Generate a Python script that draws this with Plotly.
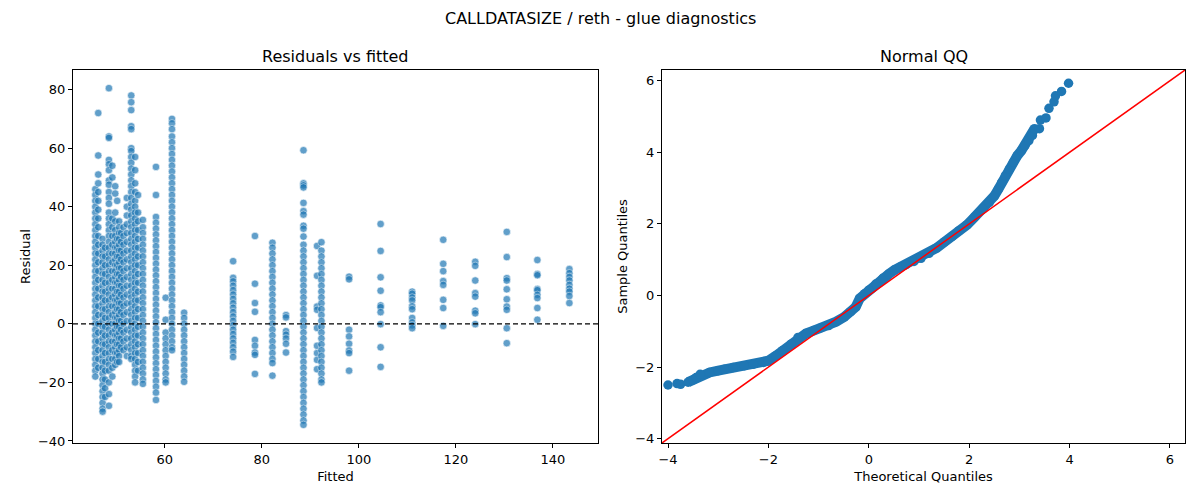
import plotly.graph_objects as go
from plotly.subplots import make_subplots

## Residuals vs fitted: one residual list per fitted level
res_f45_7 = [46, 44, 42, 40, 38, 36, 34, 32, 30, 28, 26, 24, 22, 20, 18, 16, 14, 12, 10, 8, 6, 4, 2, 0,
             -2, -4, -6, -8, -10, -12, -14, -16, -18]
res_f46_3 = [72, 57.5, 51, 48, 45, 42, 39, 36, 33, 30, 27, 24, 21, 18, 15, 12, 9, 6, 3, 0, -3, -6, -9, -12, -15]
res_f47_2 = [29, 27, 25, 23, 21, 19, 17, 15, 13, 11, 9, 7, 5, 3, 1, -1, -3, -5, -7, -9, -11, -13, -15, -17,
             -19, -21, -23, -25, -27, -29, -30]
res_f47_7 = [26, 23, 20, 17, 14, 11, 8, 5, 2, -1, -4, -7, -10, -13, -16, -19, -22, -25]
res_f48_5 = [80.5, 64, 63.5, 56, 54.5, 52.5, 49, 47.5, 45, 43, 41, 38, 36, 34, 32, 30, 28, 26, 24, 22, 20,
             18, 16, 14, 12, 10, 8, 6, 4, 2, 0, -2, -4, -6, -8, -10, -12, -14, -16, -20, -24, -28]
res_f49_2 = [54, 50, 36, 33, 30, 27, 24, 21, 18, 15, 12, 9, 6, 3, 0, -3, -6, -9, -12, -15, -18]
res_f49_8 = [47, 44.5, 38, 35, 32, 30, 28, 26, 24, 22, 20, 18, 16, 14, 12, 10, 8, 6, 4, 2, 0, -2, -4, -6,
             -8, -10, -12, -14]
res_f50_2 = [42, 29, 26, 23, 20, 17, 14, 11, 8, 5, 2, -1, -4, -7, -10, -13]
res_f50_6 = [35, 33, 31, 29, 27, 25, 23, 21, 19, 17, 15, 13, 11, 9, 7, 5, 3, 1, -1, -3, -5, -7, -9, -11, -13]
res_f51_0 = [31, 28, 25, 22, 19, 16, 13, 10, 7, 4, 1, -2, -5, -8]
res_f51_5 = [33, 30, 27, 24, 21, 18, 15, 12, 9, 6, 3, 0, -3, -6, -9]
res_f52_2 = [43, 40, 37, 34, 31, 28, 25, 22, 19, 16, 13, 10, 7, 4, 1, -2, -5, -8, -11]
res_f53_1 = [78, 75.7, 73, 67.5, 66.5, 60, 59, 57, 55, 53, 51, 49, 47, 45, 43, 41, 39, 37, 35, 33, 31, 29,
             27, 25, 23, 21, 19, 17, 15, 13, 11, 9, 7, 5, 3, 1, -1, -3, -5, -7, -9, -11, -12]
res_f53_9 = [57, 52.5, 48, 45, 42, 40, 38, 36, 34, 32, 30, 28, 26, 24, 22, 20, 18, 16, 14, 12, 10, 8, 6, 4,
             2, 0, -2, -4, -6, -8, -10, -12, -14, -16, -18, -20]
res_f54_5 = [44, 38, 35, 32, 29, 26, 23, 20, 17, 14, 11, 8, 5, 2, -1, -4, -7, -10, -13, -16]
res_f55_5 = [35.5, 33, 31, 29, 27, 25, 23, 21, 19, 17, 15, 13, 11, 9, 7, 5, 3, 1, -1, -3, -5, -7, -9, -11,
             -13, -15, -17, -19, -20.5]
res_f58_2 = [53.6, 44, 36.5, 34.5, 32.5, 30.5, 28.5, 26.5, 24.5, 22.5, 20.5, 18.5, 16.5, 14.5, 12.5, 10.5,
             8.5, 6.5, 4.5, 2.5, 0.5, -1.5, -3.5, -5.5, -7.5, -9.5, -11.5, -13.5, -15.5, -17.5, -19.5,
             -21.5, -23.5, -26]
res_f60_2 = [8.9, 1.4, -3, -5, -7, -9, -11, -13, -15, -17, -19, -20]
res_f61_5 = [70, 68.5, 66.5, 64, 62, 60, 58, 56, 54, 52, 50, 48, 46, 44, 42, 40, 38, 36, 34, 32, 30, 28,
             26, 24, 22, 20, 18, 16, 14, 12, 10, 8, 6, 4, 2, 0, -2, -4, -6, -8, -9]
res_f64_0 = [3.8, 2, 0, -2, -4, -6, -8, -10, -12, -14, -16, -18, -19.8]
res_f74_1 = [21.4, 15.7, 14.5, 13, 11.5, 10, 8.5, 7, 5.5, 4, 2.5, 1, -0.5, -2, -3.5, -5, -6.5, -8, -9.5, -11.3]
res_f78_6 = [30, 13.7, 7.1, 4.1, -5.5, -7.5, -9.8, -10.6, -17.1]
res_f82_2 = [27.7, 26, 24, 22, 20, 18, 16, 14, 12, 10, 8, 6, 4, 2, 0, -2, -4, -6, -8, -10, -12, -13.4, -17.7]
res_f85_0 = [3, 2.2, -2.5, -3.7, -5, -6.8, -9.8]
res_f88_6 = [59.3, 48, 47.3, 46.6, 41.3, 38.5, 37.3, 33.5, 32.5, 29.8, 27, 25, 23, 21, 19, 17, 15, 13, 11,
             9, 7, 5, 3, 1, -1, -3, -5, -7, -9, -11, -13, -15, -17, -19, -21, -23, -25, -27, -29, -31,
             -33, -34.5]
res_f91_4 = [26.6, 16.4, 5.9, 4.8, -1.4, -7.5, -10, -12.3, -15.5]
res_f92_3 = [27.9, 25, 23, 21, 19, 17, 15, 13, 11, 9, 7, 5, 3, 1, -1, -3, -5, -7, -9, -11, -13, -15, -17,
             -19, -20]
res_f98_0 = [16.1, 15.2, -2, -4.3, -6.8, -9.1, -10, -16]
res_f104_5 = [34.1, 24.9, 15.9, 11.3, 6.3, 5.7, 4, -0.1, -8, -14.7]
res_f111_0 = [11, 10.3, 9, 8, 6, 5, 2, 0.5, -0.5, -1.5]
res_f117_4 = [28.7, 20.5, 18, 14.6, 13.3, 8.2, 5.4, -0.7]
res_f124_0 = [21.2, 19.8, 14.8, 10.5, 9.3, 4.5, 3.6, -0.1]
res_f130_5 = [31.4, 22.8, 15.6, 14.8, 11.8, 8.4, 5.9, 4.8, -1.5, -6.6]
res_f136_8 = [21.8, 17, 16.6, 11.9, 11.5, 9.9, 8.8, 5.4, 1.4]
res_f143_4 = [18.7, 17.3, 16, 14.8, 13.3, 12, 11, 9.5, 7.1]

fitted_levels = [45.7, 46.3, 47.2, 47.7, 48.5, 49.2, 49.8, 50.2, 50.6, 51.0, 51.5, 52.2, 53.1, 53.9,
                 54.5, 55.5, 58.2, 60.2, 61.5, 64.0, 74.1, 78.6, 82.2, 85.0, 88.6, 91.4, 92.3, 98.0,
                 104.5, 111.0, 117.4, 124.0, 130.5, 136.8, 143.4]
residual_groups = [res_f45_7, res_f46_3, res_f47_2, res_f47_7, res_f48_5, res_f49_2, res_f49_8, res_f50_2,
                   res_f50_6, res_f51_0, res_f51_5, res_f52_2, res_f53_1, res_f53_9, res_f54_5, res_f55_5,
                   res_f58_2, res_f60_2, res_f61_5, res_f64_0, res_f74_1, res_f78_6, res_f82_2, res_f85_0,
                   res_f88_6, res_f91_4, res_f92_3, res_f98_0, res_f104_5, res_f111_0, res_f117_4,
                   res_f124_0, res_f130_5, res_f136_8, res_f143_4]

## Normal QQ (theoretical vs sample quantiles)
qq_theoretical = [-4.0, -3.82, -3.75, -3.6, -3.5, -3.44, -3.36, -3.17, -3.0, -2.87, -2.7, -2.48, -2.3,
                  -2.1, -2.0, -1.85, -1.72, -1.55, -1.41, -1.25, -1.1, -0.95, -0.8, -0.65, -0.49, -0.36,
                  -0.26, -0.18, -0.08, 0.0, 0.14, 0.28, 0.4, 0.51, 0.62, 0.74, 0.9, 1.04, 1.2, 1.35, 1.5,
                  1.66, 1.8, 1.96, 2.1, 2.27, 2.4, 2.5, 2.58, 2.65, 2.72, 2.8, 2.88, 2.96, 3.04, 3.11,
                  3.19, 3.26, 3.3, 3.4, 3.42, 3.53, 3.59, 3.69, 3.72, 3.84, 3.98]
qq_sample = [-2.5, -2.46, -2.48, -2.42, -2.36, -2.29, -2.2, -2.15, -2.1, -2.06, -2.01, -1.96, -1.92,
             -1.87, -1.82, -1.68, -1.54, -1.36, -1.17, -1.06, -0.98, -0.9, -0.84, -0.73, -0.6, -0.45,
             -0.32, -0.08, 0.05, 0.15, 0.32, 0.48, 0.6, 0.71, 0.79, 0.86, 0.95, 1.04, 1.18, 1.33, 1.49,
             1.65, 1.81, 1.98, 2.18, 2.41, 2.6, 2.78, 2.97, 3.16, 3.34, 3.53, 3.72, 3.91, 4.05, 4.19,
             4.33, 4.47, 4.66, 4.66, 4.9, 4.96, 5.23, 5.41, 5.58, 5.7, 5.93]
qq_range = [-4.12, 6.3]

BLUE = "#1f77b4"
FONT = "DejaVu Sans, Arial, sans-serif"

# page has an 8px body margin, so the figure is drawn 8px in from the top/left
W, H = 1184, 484

fig = make_subplots(rows=1, cols=2)

# residual strips
xs, ys = [], []
for f, res in zip(fitted_levels, residual_groups):
    xs += [f] * len(res)
    ys += res
fig.add_trace(go.Scatter(x=xs, y=ys, mode="markers",
                         marker=dict(size=7.5, color=BLUE, opacity=0.7,
                                     line=dict(width=0.6, color="white")),
                         showlegend=False), row=1, col=1)

# QQ band (dense middle drawn as a thick line) + dots
band_x = [x for x in qq_theoretical if -3.6 <= x <= 3.3]
band_y = [y for x, y in zip(qq_theoretical, qq_sample) if -3.6 <= x <= 3.3]
fig.add_trace(go.Scatter(x=band_x, y=band_y, mode="lines",
                         line=dict(width=10, color=BLUE), showlegend=False), row=1, col=2)
fig.add_trace(go.Scatter(x=qq_theoretical, y=qq_sample, mode="markers",
                         marker=dict(size=9.5, color=BLUE), showlegend=False), row=1, col=2)
# 45 degree reference line
fig.add_trace(go.Scatter(x=qq_range, y=qq_range, mode="lines",
                         line=dict(width=1.5, color="red"), showlegend=False), row=1, col=2)

ax = dict(showline=True, linecolor="black", linewidth=1, mirror=True, ticks="outside",
          ticklen=4, tickcolor="black", showgrid=False, zeroline=False, automargin=False,
          tickfont=dict(size=13, color="black"), title_font=dict(size=13, color="black"))

ydom = [(H - 435) / H, (H - 62) / H]
fig.update_xaxes(**ax)
fig.update_yaxes(**ax)
fig.update_xaxes(domain=[65 / W, 590 / W], range=[41.1, 149.3], tickvals=[60, 80, 100, 120, 140],
                 title_text="Fitted", title_standoff=6, row=1, col=1)
fig.update_yaxes(domain=ydom, range=[-40.7, 86.7], tickvals=[-40, -20, 0, 20, 40, 60, 80],
                 title_text="Residual", title_standoff=4, row=1, col=1)
fig.update_xaxes(domain=[654 / W, 1177 / W], range=qq_range, tickvals=[-4, -2, 0, 2, 4, 6],
                 title_text="Theoretical Quantiles", title_standoff=6, row=1, col=2)
fig.update_yaxes(domain=ydom, range=qq_range, tickvals=[-4, -2, 0, 2, 4, 6],
                 title_text="Sample Quantiles", title_standoff=4, row=1, col=2)

fig.add_hline(y=0, line=dict(color="black", width=1.3, dash="5px,3px"), layer="above",
              opacity=1, row=1, col=1)

fig.update_layout(
    width=W, height=H,
    paper_bgcolor="white", plot_bgcolor="white",
    font=dict(family=FONT, size=13, color="black"),
    margin=dict(l=0, r=0, t=0, b=0),
    annotations=[
        dict(text="CALLDATASIZE / reth - glue diagnostics", x=592 / W, y=1 - 10 / H,
             xref="paper", yref="paper", showarrow=False, font=dict(size=16),
             xanchor="center", yanchor="middle"),
        dict(text="Residuals vs fitted", x=327.5 / W, y=1 - 48 / H, xref="paper", yref="paper",
             showarrow=False, font=dict(size=16), xanchor="center", yanchor="middle"),
        dict(text="Normal QQ", x=915.5 / W, y=1 - 48 / H, xref="paper", yref="paper",
             showarrow=False, font=dict(size=16), xanchor="center", yanchor="middle"),
    ],
)

fig.write_html("out.html")
